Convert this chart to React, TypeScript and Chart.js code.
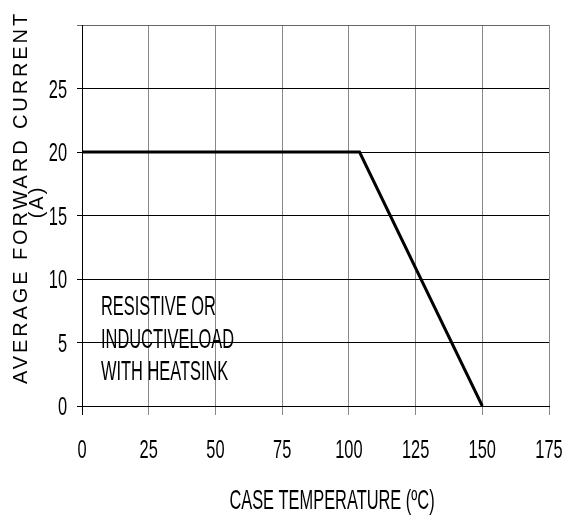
import React, { useEffect, useRef } from "react";
import { Chart, registerables } from "chart.js";

Chart.register(...registerables);

const temperatures = [0, 104, 150];
const currents = [20, 20, 0];
const xTicks = [0, 25, 50, 75, 100, 125, 150, 175];
const yTicks = [0, 5, 10, 15, 20, 25, 30];
const yTickLabels = ["0", "5", "10", "15", "20", "25", ""];
const xTitle = "CASE TEMPERATURE (ºC)";
const yTitle = "AVERAGE FORWARD CURRENT";
const yUnit = "(A)";
const noteLines = ["RESISTIVE OR", "INDUCTIVELOAD", "WITH HEATSINK"];

const SANS = '"Liberation Sans", Arial, sans-serif';
const NX = 0.82; // narrow factor
const NY = 1.3; // vertical stretch

function narrowText(ctx: CanvasRenderingContext2D, text: string, x: number, y: number, align: CanvasTextAlign, sy: number) {
  ctx.save();
  ctx.translate(x, y);
  ctx.scale(NX, sy);
  ctx.textAlign = align;
  ctx.fillText(text, 0, 0);
  ctx.restore();
}

const textPlugin = {
  id: "textPlugin",
  afterDraw(chart: any) {
    const ctx = chart.ctx as CanvasRenderingContext2D;
    const xs = chart.scales.x;
    const ys = chart.scales.y;
    ctx.save();
    ctx.fillStyle = "#000";
    ctx.textBaseline = "alphabetic";
    ctx.font = `20px ${SANS}`;
    // tick labels via library scales
    xs.ticks.forEach((t: any) => {
      const px = xs.getPixelForValue(t.value);
      narrowText(ctx, String(t.value), px, 458, "center", NY);
    });
    ys.ticks.forEach((t: any, i: number) => {
      const py = ys.getPixelForValue(t.value);
      const lbl = yTickLabels[yTicks.indexOf(t.value)] ?? "";
      if (lbl) narrowText(ctx, lbl, 67, py + 9, "right", NY);
    });
    // note
    const noteBase = [315, 348, 380];
    noteLines.forEach((l, i) => narrowText(ctx, l, 101, noteBase[i], "left", 1.38));
    // x title
    narrowText(ctx, xTitle, 332, 509, "center", 1.35);
    // y title
    ctx.save();
    ctx.font = `20px ${SANS}`;
    (ctx as any).letterSpacing = "2.9px";
    ctx.translate(27, 384);
    ctx.rotate(-Math.PI / 2);
    ctx.textAlign = "left";
    ctx.fillText(yTitle, 0, 0);
    ctx.restore();
    ctx.save();
    ctx.font = `20px ${SANS}`;
    (ctx as any).letterSpacing = "2px";
    ctx.translate(43, 203);
    ctx.rotate(-Math.PI / 2);
    ctx.textAlign = "center";
    ctx.fillText(yUnit, 1, 0);
    ctx.restore();
    ctx.restore();
  },
};

export default function App() {
  const ref = useRef<HTMLCanvasElement>(null);
  useEffect(() => {
    if (!ref.current) return;
    const chart = new Chart(ref.current, {
      type: "scatter",
      data: {
        datasets: [
          {
            data: temperatures.map((t, i) => ({ x: t, y: currents[i] })),
            showLine: true,
            borderColor: "#000",
            borderWidth: 3,
            pointRadius: 0,
            fill: false,
          },
        ],
      },
      options: {
        animation: false,
        responsive: false,
        layout: { padding: { top: 25, right: 13, left: 0, bottom: 0 } },
        plugins: { legend: { display: false }, tooltip: { enabled: false } },
        scales: {
          x: {
            type: "linear",
            min: xTicks[0],
            max: xTicks[xTicks.length - 1],
            afterBuildTicks: (s: any) => {
              s.ticks = xTicks.map((v) => ({ value: v }));
            },
            afterFit: (s: any) => {
              s.height = 113;
            },
            ticks: { display: false },
            grid: {
              color: (c: any) => (c.tick && c.tick.value === 0 ? "#000" : "#888"),
              lineWidth: 1,
              tickLength: 9,
            },
            border: { display: true, color: "#000", width: 1 },
          },
          y: {
            min: yTicks[0],
            max: yTicks[yTicks.length - 1],
            afterBuildTicks: (s: any) => {
              s.ticks = yTicks.map((v) => ({ value: v }));
            },
            afterFit: (s: any) => {
              s.width = 82;
            },
            ticks: { display: false },
            grid: {
              color: (c: any) => (c.tick && c.tick.value === 30 ? "#666" : "#000"),
              lineWidth: 1,
              tickLength: 5,
            },
            border: { display: true, color: "#000", width: 1 },
          },
        },
      },
      plugins: [textPlugin],
    });
    return () => chart.destroy();
  }, []);
  return (
    <div style={{ position: "absolute", left: 0, top: 0, width: 562, height: 519, background: "#fff" }}>
      <canvas ref={ref} width={562} height={519} style={{ display: "block" }} />
    </div>
  );
}
